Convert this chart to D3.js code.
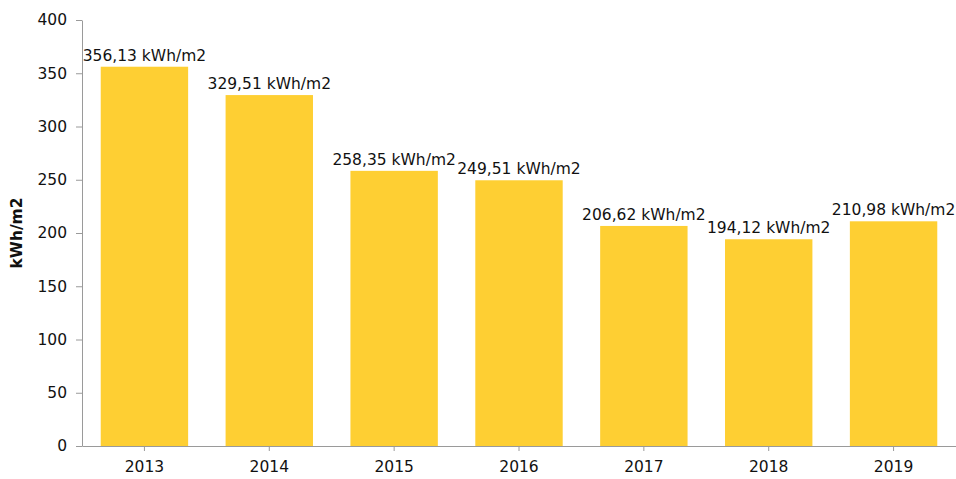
<!DOCTYPE html>
<html>
<head>
<meta charset="utf-8">
<script src="https://cdn.jsdelivr.net/npm/d3@7"></script>
<style>
  body { margin: 0; background: #fff; }
  text { font-family: "DejaVu Sans", Verdana, sans-serif; fill: #111; }
  .axisLines path, .axisLines line { stroke: #9a9a9a; }
</style>
</head>
<body>
<div id="chart"></div>
<script>
// data
var years = ["2013", "2014", "2015", "2016", "2017", "2018", "2019"];
var values = [356.13, 329.51, 258.35, 249.51, 206.62, 194.12, 210.98];
var yTicks = [0, 50, 100, 150, 200, 250, 300, 350, 400];

var margin = {top: 20, right: 0, bottom: 33, left: 82},
    width = 956 - margin.left - margin.right,
    height = 479 - margin.top - margin.bottom;

var svg = d3.select("#chart").append("svg")
    .attr("width", 956)
    .attr("height", 479)
    .append("g")
    .attr("transform", "translate(" + margin.left + "," + margin.top + ")");

var x = d3.scaleBand().domain(years).range([0, width]).paddingInner(0.3).paddingOuter(0.15);
var y = d3.scaleLinear().domain([0, 400]).range([height, 0]);

var fmt = function(v) { return d3.format(".2f")(v).replace(".", ",") + " kWh/m2"; };

// bars
svg.selectAll(".bar")
    .data(values)
    .enter()
    .append("rect")
    .attr("class", "bar")
    .attr("x", function(d, i) { return x(years[i]); })
    .attr("y", function(d) { return y(d); })
    .attr("width", x.bandwidth())
    .attr("height", function(d) { return height - y(d); })
    .style("fill", "#fecf33");

// value labels
svg.selectAll(".val")
    .data(values)
    .enter()
    .append("text")
    .attr("class", "val")
    .attr("x", function(d, i) { return x(years[i]) + x.bandwidth() / 2; })
    .attr("y", function(d) { return y(d) - 6; })
    .attr("text-anchor", "middle")
    .style("font-size", "15.5px")
    .text(fmt);

// y axis
var yAxis = svg.append("g")
    .attr("class", "axisLines")
    .call(d3.axisLeft(y).tickValues(yTicks).tickSize(6).tickPadding(9).tickSizeOuter(0));
yAxis.selectAll("text").style("font-size", "15.5px");

// x axis
var xAxis = svg.append("g")
    .attr("class", "axisLines")
    .attr("transform", "translate(0," + height + ")")
    .call(d3.axisBottom(x).tickSize(5).tickPadding(10).tickSizeOuter(0));
xAxis.selectAll("text").style("font-size", "15.5px");

// y title
svg.append("text")
    .attr("transform", "translate(" + (-60) + "," + (height / 2) + ") rotate(-90)")
    .attr("text-anchor", "middle")
    .style("font-size", "15.5px")
    .style("font-weight", "bold")
    .text("kWh/m2");
</script>
</body>
</html>
